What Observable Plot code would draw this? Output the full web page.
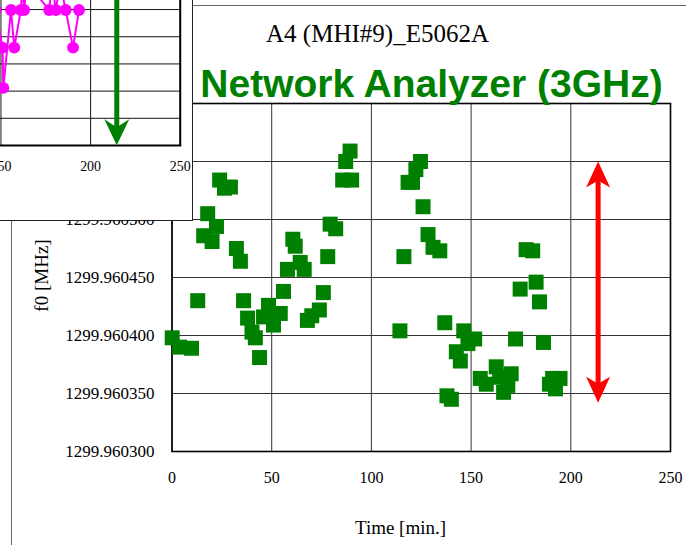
<!DOCTYPE html>
<html>
<head>
<meta charset="utf-8">
<script src="https://cdn.jsdelivr.net/npm/d3@7"></script>
<script src="https://cdn.jsdelivr.net/npm/@observablehq/plot@0.6"></script>
<style>
  html, body { margin: 0; padding: 0; background: #fff; }
  #stage { position: relative; width: 686px; height: 545px; overflow: hidden; background: #fff; }
  #main { position: absolute; left: 0; top: 0; }
  #outer { position: absolute; left: 11px; top: 5px; width: 720px; height: 539px; border: 1.5px solid #666; pointer-events: none; }
  #inset { position: absolute; left: -300px; top: -100px; width: 493px; height: 321px; box-sizing: border-box;
           border: 1.5px solid #222; background: #fff; overflow: hidden; }
  #inset svg { position: absolute; left: -1.5px; top: -1.5px; }
</style>
</head>
<body>
<div id="stage">
  <div id="main"></div>
  <div id="outer"></div>
  <div id="inset"></div>
</div>
<script>
// Resonance frequency f0 of A4 (MHI#9) measured with the E5062A network analyzer
const time = [0.1, 3.8, 9.8, 12.9, 15.9, 17.9, 20.1, 22.3, 23.9, 26.3, 29.3, 32.3, 34.3, 35.9, 37.9, 40.1,
  41.8, 43.9, 45.9, 48.4, 49.6, 50.9, 54.3, 55.9, 57.9, 60.6, 61.8, 64.3, 66.3, 67.9, 70.1, 73.9, 75.9,
  78.1, 79.3, 82.1, 85.6, 87.1, 89.3, 90.1, 114.3, 116.3, 118.4, 120.6, 122.3, 124.6, 125.9, 128.4, 130.9,
  134.3, 136.8, 137.9, 140.1, 142.6, 144.6, 146.3, 148.4, 151.8, 154.6, 157.6, 162.6, 164.3, 166.3, 168.4,
  170.1, 172.3, 174.6, 177.6, 180.9, 182.6, 184.3, 186.3, 189.3, 190.9, 192.3, 194.6];
const f0 = [1299.960398, 1299.960390, 1299.960389, 1299.960430, 1299.960486, 1299.960505, 1299.960481,
  1299.960494, 1299.960534, 1299.960527, 1299.960528, 1299.960475, 1299.960464, 1299.960430, 1299.960415,
  1299.960403, 1299.960398, 1299.960381, 1299.960416, 1299.960426, 1299.960418, 1299.960409, 1299.960419,
  1299.960438, 1299.960457, 1299.960483, 1299.960477, 1299.960463, 1299.960457, 1299.960413, 1299.960417,
  1299.960422, 1299.960437, 1299.960468, 1299.960496, 1299.960492, 1299.960534, 1299.960550, 1299.960559,
  1299.960534, 1299.960404, 1299.960468, 1299.960532, 1299.960532, 1299.960543, 1299.960550, 1299.960511,
  1299.960487, 1299.960476, 1299.960473, 1299.960411, 1299.960348, 1299.960345, 1299.960386, 1299.960378,
  1299.960404, 1299.960393, 1299.960397, 1299.960363, 1299.960358, 1299.960373, 1299.960364, 1299.960351,
  1299.960357, 1299.960367, 1299.960397, 1299.960440, 1299.960474, 1299.960473, 1299.960446, 1299.960429,
  1299.960394, 1299.960358, 1299.960363, 1299.960354, 1299.960363];

const xTicks = [0, 50, 100, 150, 200, 250];
const yTicks = [1299.960300, 1299.960350, 1299.960400, 1299.960450, 1299.960500, 1299.960550, 1299.960600];

// Spread of f0 marked by the red double arrow
const spreadTime = 213.7;
const spreadTop = 1299.960550;
const spreadBottom = 1299.960342;

// Small overlaid panel: earlier run (magenta) with the green marker arrow
const insetTime = [147.0, 150.9, 151.3, 155.6, 157.4, 161.1, 162.0, 162.9, 164.5, 176.9, 178.5, 180.6, 183.0, 186.1, 190.2, 193.5];
const insetValue = [249, 180, 106, 249, 180, 249, 300, 249, 300, 249, 300, 249, 300, 249, 180, 249];
const insetGridX = [0, 50, 100, 150, 200, 250];
const insetTickLabels = [150, 200, 250];
const insetGridY = [0, 50, 100, 150, 200, 250, 300, 350, 400];
const markerTime = 214.6;

const points = time.map((t, i) => ({t, f: f0[i]}));
const insetPoints = insetTime.map((t, i) => ({t, v: insetValue[i]}));

// Filled arrowhead with swept-back barbs; tip at the origin, pointing up
const arrowHead = (len, half, notch) => ({
  draw(ctx) {
    ctx.moveTo(0, 0);
    ctx.lineTo(half, len);
    ctx.lineTo(0, len - notch);
    ctx.lineTo(-half, len);
    ctx.closePath();
  }
});

const serif = "'Liberation Serif','Times New Roman',serif";

const mainChart = Plot.plot({
  width: 686,
  height: 545,
  marginLeft: 171.5,
  marginRight: 16,
  marginTop: 103,
  marginBottom: 94,
  style: {fontFamily: serif, fontSize: "16px", color: "#000", background: "#fff", overflow: "visible"},
  x: {domain: [0, 250]},
  y: {domain: [yTicks[0], yTicks[yTicks.length - 1]]},
  marks: [
    Plot.gridX(xTicks, {stroke: "#333", strokeOpacity: 1, strokeWidth: 1}),
    Plot.gridY(yTicks, {stroke: "#333", strokeOpacity: 1, strokeWidth: 1}),
    Plot.frame({stroke: "#000", strokeWidth: 1.6}),
    Plot.axisX(xTicks, {tickSize: 0, tickPadding: 20, label: null, fontSize: 16}),
    Plot.axisY(yTicks, {tickSize: 0, tickPadding: 17.5, label: null, fontSize: 17, tickFormat: d => d.toFixed(6)}),
    Plot.dot(points, {x: "t", y: "f", symbol: "square", r: 8.46, fill: "#008000", stroke: "none"}),
    Plot.ruleX([{t: spreadTime, y1: spreadTop, y2: spreadBottom}], {
      x: "t", y1: "y1", y2: "y2", stroke: "#ff0000", strokeWidth: 5, insetTop: 14, insetBottom: 14
    }),
    Plot.dot([{t: spreadTime, f: spreadTop, r: 0}, {t: spreadTime, f: spreadBottom, r: 180}], {
      x: "t", y: "f", rotate: "r", symbol: arrowHead(26, 12, 7), fill: "#ff0000", stroke: "none"
    }),
    Plot.text(["A4 (MHI#9)_E5062A"], {
      text: d => d, frameAnchor: "top", textAnchor: "middle", lineAnchor: "middle",
      dx: -43.75, dy: -70, fontSize: 25, fontFamily: serif, fill: "#000"
    }),
    Plot.text(["Network Analyzer (3GHz)"], {
      text: d => d, frameAnchor: "top", textAnchor: "middle", lineAnchor: "middle",
      dx: 10.25, dy: -18.5, fontSize: 39, fontWeight: "bold",
      fontFamily: "'Liberation Sans',Arial,sans-serif", fill: "#008000"
    }),
    Plot.text(["f0 [MHz]"], {
      text: d => d, frameAnchor: "left", textAnchor: "middle", lineAnchor: "middle",
      dx: -129.8, dy: -2, rotate: -90, fontSize: 19, fontFamily: serif, fill: "#000"
    }),
    Plot.text(["Time [min.]"], {
      text: d => d, frameAnchor: "bottom", textAnchor: "middle", lineAnchor: "middle",
      dx: -20.75, dy: 76, fontSize: 19, fontFamily: serif, fill: "#000"
    })
  ]
});
document.getElementById("main").append(mainChart);

const insetChart = Plot.plot({
  width: 493,
  height: 321,
  marginLeft: 31.7,
  marginRight: 11.3,
  marginTop: 27.6,
  marginBottom: 75,
  style: {fontFamily: serif, fontSize: "14px", color: "#000", background: "#fff", overflow: "hidden"},
  x: {domain: [0, 250]},
  y: {domain: [0, 400], axis: null},
  marks: [
    Plot.gridX(insetGridX, {stroke: "#111", strokeOpacity: 1, strokeWidth: 1}),
    Plot.gridY(insetGridY, {stroke: "#111", strokeOpacity: 1, strokeWidth: 1}),
    Plot.frame({stroke: "#000", strokeWidth: 2}),
    Plot.axisX(insetTickLabels, {tickSize: 0, tickPadding: 15.7, label: null, fontSize: 14}),
    Plot.line(insetPoints, {x: "t", y: "v", stroke: "#ff00ff", strokeWidth: 2}),
    Plot.dot(insetPoints, {x: "t", y: "v", r: 6, fill: "#ff00ff", stroke: "none"}),
    Plot.ruleX([{t: markerTime, y1: 420, y2: 0.5}], {
      x: "t", y1: "y1", y2: "y2", stroke: "#008000", strokeWidth: 5, insetBottom: 14
    }),
    Plot.dot([{t: markerTime, v: 0.5}], {
      x: "t", y: "v", rotate: 180, symbol: arrowHead(26, 12.5, 8), fill: "#008000", stroke: "none"
    })
  ]
});
document.getElementById("inset").append(insetChart);
</script>
</body>
</html>
